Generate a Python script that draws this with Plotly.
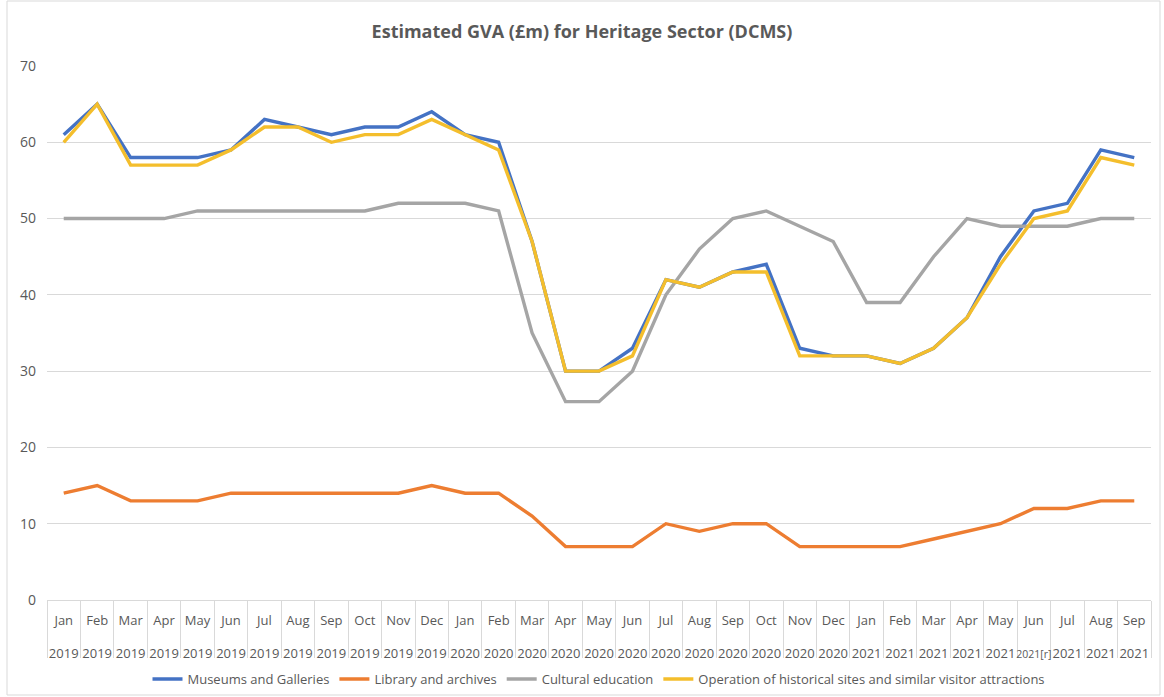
import plotly.graph_objects as go

months = ["Jan","Feb","Mar","Apr","May","Jun","Jul","Aug","Sep","Oct","Nov","Dec"]
years_labels = (["2019"]*12) + (["2020"]*12) + ["2021"]*5 + ["2021[r]"] + ["2021"]*3
month_labels = (months*3)[:33]

def year_text(y):
    if "[r]" in y:
        return f'<span style="font-size:10.5px">{y}</span>'
    return y

categories = [f"{m}<br><span style='font-size:10px'>&nbsp;</span><br>{year_text(y)}"
              for m, y in zip(month_labels, years_labels)]

museums = [61,65,58,58,58,59,63,62,61,62,62,64,61,60,47,30,30,33,42,41,43,44,33,32,32,31,33,37,45,51,52,59,58]
library = [14,15,13,13,13,14,14,14,14,14,14,15,14,14,11,7,7,7,10,9,10,10,7,7,7,7,8,9,10,12,12,13,13]
cultural = [50,50,50,50,51,51,51,51,51,51,52,52,52,51,35,26,26,30,40,46,50,51,49,47,39,39,45,50,49,49,49,50,50]
heritage = [60,65,57,57,57,59,62,62,60,61,61,63,61,59,47,30,30,32,42,41,43,43,32,32,32,31,33,37,44,50,51,58,57]

series = [
    ("Museums and Galleries", museums, "#4472C4"),
    ("Library and archives", library, "#ED7D31"),
    ("Cultural education", cultural, "#A5A5A5"),
    ("Operation of historical sites and similar visitor attractions", heritage, "#F4BE2C"),
]

fig = go.Figure()
for name, vals, col in series:
    fig.add_trace(go.Scatter(x=categories, y=vals, name=name, mode="lines",
                             line=dict(color=col, width=3.4)))

W, H = 1164, 697
ml, mr, mt, mb = 47, 13, 66, 97
pw, ph = W - ml - mr, H - mt - mb

fig.update_layout(
    width=W, height=H,
    margin=dict(l=ml, r=mr, t=mt, b=mb, autoexpand=False),
    paper_bgcolor="white", plot_bgcolor="white",
    font=dict(family="Open Sans, Lato, sans-serif", color="#595959", size=12),
    title=dict(text="<b>Estimated GVA (£m) for Heritage Sector (DCMS)</b>",
               x=0.5, xanchor="center", y=1 - 32/H, yanchor="middle",
               font=dict(size=18, color="#595959")),
    legend=dict(orientation="h", x=0.5, xanchor="center", y=-(679-600)/ph, yanchor="middle",
                font=dict(size=13, color="#595959"), traceorder="normal"),
    showlegend=True,
    xaxis=dict(type="category", tickson="boundaries", ticks="outside", ticklen=57,
               tickcolor="#D9D9D9", tickwidth=1, showgrid=False,
               showline=True, linecolor="#D9D9D9", linewidth=1,
               tickfont=dict(size=13, color="#595959"), tickangle=0,
               ticklabelstandoff=8,
               range=[-0.5, 32.5]),
    yaxis=dict(range=[0, 70], dtick=10, showgrid=True, gridcolor="#D9D9D9", gridwidth=1,
               zeroline=False, showline=False, ticks="",
               ticklabelstandoff=10,
               tickfont=dict(size=14, color="#595959")),
    shapes=[dict(type="rect", xref="paper", yref="paper",
                 x0=-(ml-7)/pw, x1=1+(mr-4)/pw, y0=-(mb-2)/ph, y1=1+(mt-1)/ph,
                 line=dict(color="#D9D9D9", width=1))],
)

fig.write_html("out.html", config={"displayModeBar": False},
               post_script="document.body.style.margin='0px';")
